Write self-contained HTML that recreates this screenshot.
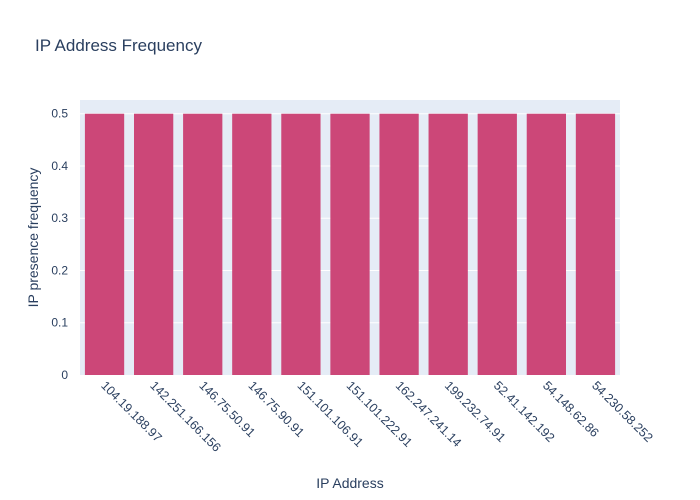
<!DOCTYPE html>
<html><head><meta charset="utf-8"><style>body{margin:0;background:#fff}svg{display:block;font-family:"Liberation Sans","Open Sans",sans-serif}</style></head>
<body>
<svg id="c" width="700" height="500">
<rect x="0" y="0" width="700" height="500" fill="#fff"/>
<text x="35" y="51" font-size="17" fill="#2a3f5f">IP Address Frequency</text>
<rect x="80" y="100" width="540" height="275" fill="#E5ECF6"/>
<g id="grid"></g><g id="bars"></g><g id="ticks"></g>
<text x="350" y="488" font-size="14" fill="#2a3f5f" text-anchor="middle">IP Address</text>
<text transform="translate(38,237.5) rotate(-90)" font-size="14" fill="#2a3f5f" text-anchor="middle">IP presence frequency</text>
</svg>
<script>
const categories=["104.19.188.97","142.251.166.156","146.75.50.91","146.75.90.91","151.101.106.91","151.101.222.91","162.247.241.14","199.232.74.91","52.41.142.192","54.148.62.86","54.230.58.252"];
const values=[0.5,0.5,0.5,0.5,0.5,0.5,0.5,0.5,0.5,0.5,0.5];
const yTicks=[0,0.1,0.2,0.3,0.4,0.5];
const yTickLabels=["0","0.1","0.2","0.3","0.4","0.5"];
const NS="http://www.w3.org/2000/svg";
const L=80,R=620,T=100,B=375,yMax=0.5263;
const band=(R-L)/categories.length;
const xC=i=>L+band*(i+0.5);
const y=v=>B-(v/yMax)*(B-T);
function mk(t,a,p){const e=document.createElementNS(NS,t);for(const k in a)e.setAttribute(k,a[k]);document.getElementById(p).appendChild(e);return e;}
yTicks.forEach((v,i)=>{
 if(v>0){const g=mk('line',{x1:L,x2:R,y1:y(v),y2:y(v),stroke:'#fff','stroke-width':1},'grid');
 
 }
 const t=mk('text',{x:L-12,y:y(v)+4,'font-size':12,fill:'#2a3f5f','text-anchor':'end'},'ticks');
 t.textContent=yTickLabels[i];
 
 
});
categories.forEach((c,i)=>{
 const w=band*0.8;
 const b=mk('rect',{x:xC(i)-w/2,y:y(values[i]),width:w,height:B-y(values[i]),fill:'#CC4778'},'bars');
 
 
 const cx=xC(i)+2,cy=B+5;
 const t=mk('text',{x:cx,y:cy,'font-size':12.5,fill:'#2a3f5f',transform:`rotate(45 ${cx} ${cy})`,'dominant-baseline':'hanging'},'ticks');
 t.textContent=c;
 
 
});
</script>
</body></html>
